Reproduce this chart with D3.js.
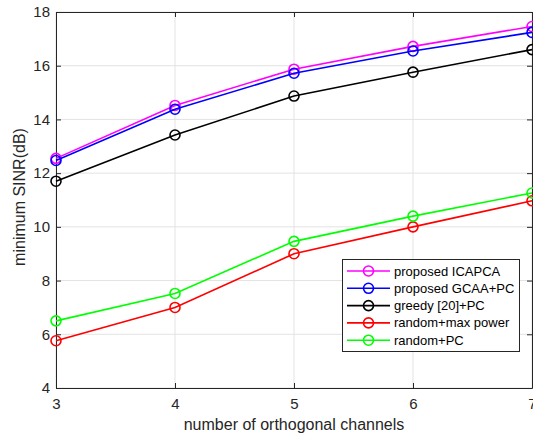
<!DOCTYPE html>
<html><head><meta charset="utf-8">
<script src="https://cdn.jsdelivr.net/npm/d3@7"></script>
<style>body{margin:0;background:#fff}svg{display:block}text{font-family:"Liberation Sans",Arial,Helvetica,sans-serif}</style>
</head><body><svg id="c" width="533" height="436"></svg>
<script>
const channels = [3, 4, 5, 6, 7];
const icapca = [12.55, 14.52, 15.87, 16.72, 17.46];
const gcaa = [12.47, 14.38, 15.72, 16.55, 17.24];
const greedy = [11.7, 13.42, 14.87, 15.76, 16.6];
const randomMax = [5.76, 7.0, 9.0, 10.0, 10.97];
const randomPC = [6.5, 7.52, 9.46, 10.4, 11.26];
const seriesNames = ["proposed ICAPCA", "proposed GCAA+PC", "greedy [20]+PC", "random+max power", "random+PC"];
const seriesColors = ["#ff00ff", "#0000ff", "#000000", "#ff0000", "#00ff00"];
const xTicks = [3, 4, 5, 6, 7];
const yTicks = [4, 6, 8, 10, 12, 14, 16, 18];

const series = [icapca, gcaa, greedy, randomMax, randomPC].map((v, i) => ({name: seriesNames[i], color: seriesColors[i], values: v}));

const svg = d3.select("#c");
const L = 56, R = 532, T = 12, B = 388;
const x = d3.scaleLinear().domain([3, 7]).range([L, R]);
const y = d3.scaleLinear().domain([4, 18]).range([B, T]);
const axisColor = "#262626";

// grid
const g = svg.append("g");
g.selectAll("line.gx").data(xTicks).join("line")
  .attr("x1", d => x(d)).attr("x2", d => x(d)).attr("y1", T).attr("y2", B)
  .attr("stroke", "#e3e3e3").attr("stroke-width", 1);
g.selectAll("line.gy").data(yTicks).join("line")
  .attr("y1", d => y(d)).attr("y2", d => y(d)).attr("x1", L).attr("x2", R)
  .attr("stroke", "#e3e3e3").attr("stroke-width", 1);

// axes
const xa = svg.append("g").attr("transform", `translate(0,${B})`)
  .call(d3.axisBottom(x).tickValues(xTicks).tickFormat(d3.format("d")).tickSizeInner(-5).tickSizeOuter(0).tickPadding(10));
const xt = svg.append("g").attr("transform", `translate(0,${T})`)
  .call(d3.axisTop(x).tickValues(xTicks).tickFormat("").tickSizeInner(-5).tickSizeOuter(0));
const ya = svg.append("g").attr("transform", `translate(${L},0)`)
  .call(d3.axisLeft(y).tickValues(yTicks).tickFormat(d3.format("d")).tickSizeInner(-5).tickSizeOuter(0).tickPadding(6));
const yr = svg.append("g").attr("transform", `translate(${R},0)`)
  .call(d3.axisRight(y).tickValues(yTicks).tickFormat("").tickSizeInner(-5).tickSizeOuter(0));
[xa, xt, ya, yr].forEach(a => {
  a.select(".domain").attr("stroke", axisColor).attr("stroke-width", 1);
  a.selectAll(".tick line").attr("stroke", axisColor);
  a.selectAll(".tick text").attr("fill", axisColor).attr("font-size", 15)
   .attr("font-family", '"Liberation Sans",Arial,sans-serif');
});

// lines
const line = d3.line().x((d, i) => x(channels[i])).y(d => y(d));
series.forEach(s => {
  svg.append("path").attr("d", line(s.values)).attr("fill", "none")
    .attr("stroke", s.color).attr("stroke-width", 1.6);
  svg.selectAll(null).data(s.values).join("circle")
    .attr("cx", (d, i) => x(channels[i])).attr("cy", d => y(d)).attr("r", 5)
    .attr("fill", "none").attr("stroke", s.color).attr("stroke-width", 1.6);
});

// labels
svg.append("text").attr("x", (L + R) / 2).attr("y", 430).attr("text-anchor", "middle")
  .attr("font-size", 16).attr("fill", axisColor).text("number of orthogonal channels");
svg.append("text").attr("transform", "translate(25,197) rotate(-90)").attr("text-anchor", "middle")
  .attr("font-size", 16).attr("fill", axisColor).text("minimum SINR(dB)");

// legend
const lg = svg.append("g");
lg.append("rect").attr("x", 342.5).attr("y", 259.5).attr("width", 177).attr("height", 92)
  .attr("fill", "#fff").attr("stroke", axisColor).attr("stroke-width", 1);
series.forEach((s, i) => {
  const yy = 271 + i * 17.3;
  lg.append("line").attr("x1", 347).attr("x2", 390).attr("y1", yy).attr("y2", yy)
    .attr("stroke", s.color).attr("stroke-width", 1.6);
  lg.append("circle").attr("cx", 368.5).attr("cy", yy).attr("r", 5)
    .attr("fill", "none").attr("stroke", s.color).attr("stroke-width", 1.6);
  lg.append("text").attr("x", 394).attr("y", yy).attr("dy", "0.35em")
    .attr("font-size", 13).attr("fill", "#000").text(s.name);
});
</script></body></html>
